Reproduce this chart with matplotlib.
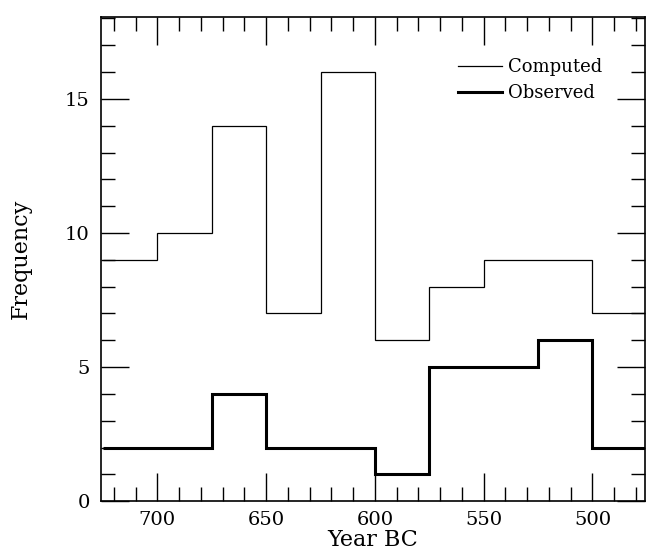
import numpy as np
import matplotlib
matplotlib.use('Agg')
import matplotlib.pyplot as plt
from matplotlib.ticker import MultipleLocator

plt.rcParams['font.family'] = 'DejaVu Serif'
plt.rcParams['xtick.direction'] = 'in'
plt.rcParams['ytick.direction'] = 'in'

# bin edges, 25-year bins (years BC)
edges = [725, 700, 675, 650, 625, 600, 575, 550, 525, 500, 475]
computed = [9, 10, 14, 7, 16, 6, 8, 9, 9, 7]
observed = [2, 2, 4, 2, 2, 1, 5, 5, 6, 2]

fig = plt.figure(figsize=(6.46, 5.52), dpi=100)
ax = fig.add_axes([0.156, 0.092, 0.842, 0.877])

ax.stairs(computed, edges, color='black', lw=0.9, baseline=None, label='Computed')
ax.stairs(observed, edges, color='black', lw=2.2, baseline=None, label='Observed')

ax.set_xlim(726, 476)
ax.set_ylim(0, 18.05)

ax.xaxis.set_major_locator(MultipleLocator(50))
ax.xaxis.set_minor_locator(MultipleLocator(10))
ax.yaxis.set_major_locator(MultipleLocator(5))
ax.yaxis.set_minor_locator(MultipleLocator(1))
ax.tick_params(top=True, right=True, which='both', labelsize=14)
ax.tick_params(which='major', length=20, width=1)
ax.tick_params(which='minor', length=10, width=1)
ax.tick_params(axis='x', pad=7)
ax.tick_params(axis='y', pad=8)
for s in ax.spines.values():
    s.set_linewidth(1.2)

ax.set_xlabel('Year BC', fontsize=16, labelpad=0)
ax.set_ylabel('Frequency', fontsize=16, labelpad=24)

ax.legend(loc='upper left', bbox_to_anchor=(0.656, 0.915), frameon=False,
          fontsize=13, handlelength=2.45, handletextpad=0.35, labelspacing=0.45,
          borderpad=0, borderaxespad=0)

fig.savefig('out.png', dpi=100)
